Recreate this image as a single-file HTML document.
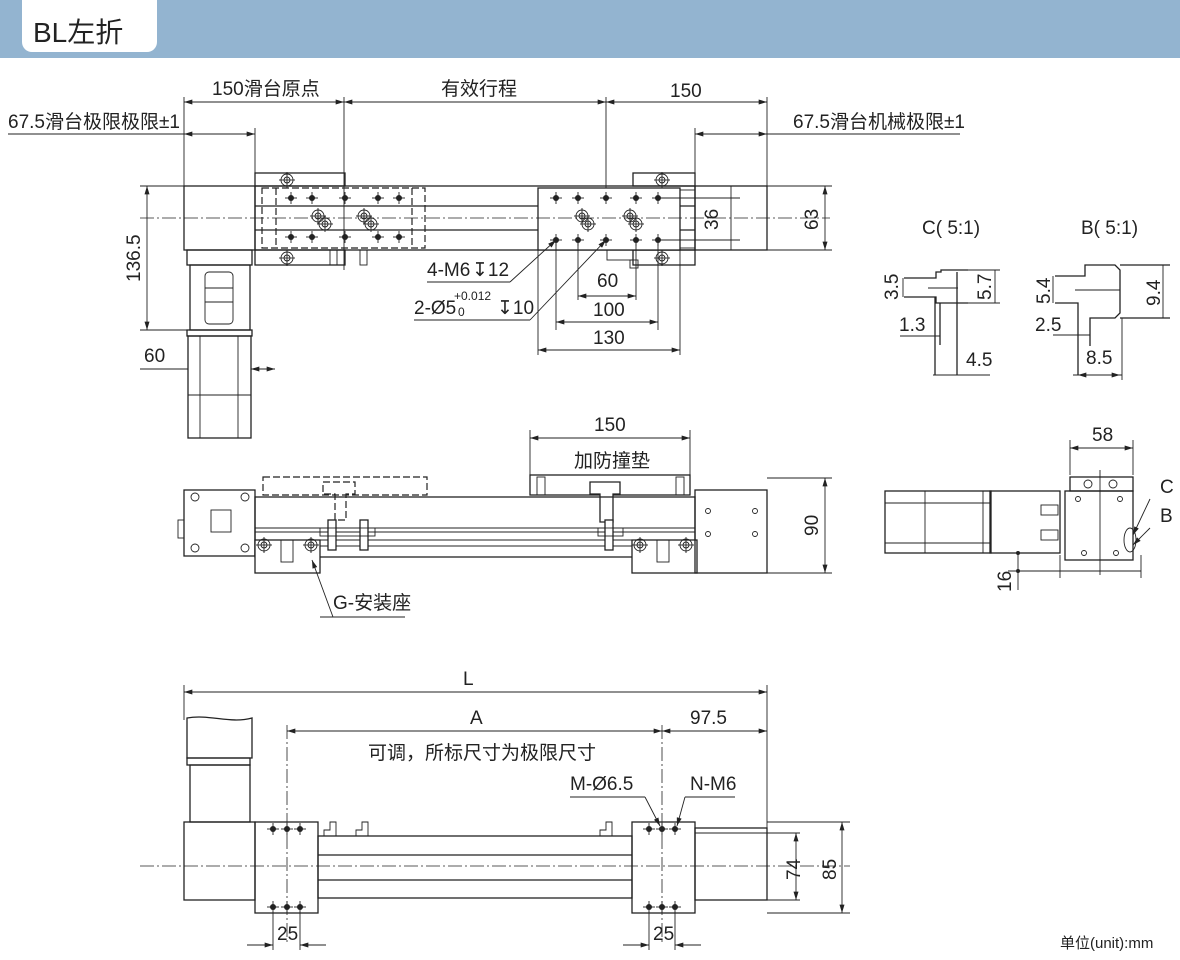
<!DOCTYPE html>
<html><head><meta charset="utf-8"><style>
html,body{margin:0;padding:0;background:#fff;}
svg{display:block}
text{font-family:"Liberation Sans Narrow","Liberation Sans","Noto Sans CJK SC",sans-serif;font-size:19px;fill:#222}
.l{stroke:#222;stroke-width:1.3;fill:none}
.t{stroke:#222;stroke-width:0.9;fill:none}
.w{stroke:#222;stroke-width:1.3;fill:#fff}
.d{stroke:#222;stroke-width:1.2;fill:none;stroke-dasharray:7 3}
.c{stroke:#222;stroke-width:0.8;fill:none;stroke-dasharray:14 3 2 3}
.a{stroke:#222;stroke-width:0.9;fill:none;marker-start:url(#ar);marker-end:url(#ar)}
.h{fill:#222}
</style></head><body>
<svg width="1180" height="960" viewBox="0 0 1180 960" xmlns="http://www.w3.org/2000/svg">
<defs>
<marker id="ar" viewBox="0 0 10 6" refX="10" refY="3" markerWidth="12" markerHeight="5" orient="auto-start-reverse" markerUnits="userSpaceOnUse"><path d="M0,0 L10,3 L0,6z" fill="#222"/></marker>
<g id="hole"><circle r="3" class="h"/><line x1="-6" y1="0" x2="6" y2="0" class="t"/><line x1="0" y1="-6" x2="0" y2="6" class="t"/></g>
<g id="bolt"><circle r="6" class="t"/><circle r="3" class="t"/><line x1="-8" y1="0" x2="8" y2="0" class="t"/><line x1="0" y1="-8" x2="0" y2="8" class="t"/></g>
</defs>
<!-- header -->
<rect x="0" y="0" width="1180" height="58" fill="#93b4d0"/>
<path d="M22,0 H157 V42 a10,10 0 0 1 -10,10 H32 a10,10 0 0 1 -10,-10z" fill="#fff"/>
<text x="33" y="42" style="font-family:'Liberation Sans','Noto Sans CJK SC',sans-serif;font-size:28px">BL左折</text>

<!-- ===== TOP VIEW ===== -->
<!-- dims -->
<line x1="184" y1="97" x2="184" y2="186" class="t"/>
<line x1="344" y1="97" x2="344" y2="270" class="t"/>
<line x1="606" y1="97" x2="606" y2="250" class="t"/>
<line x1="767" y1="97" x2="767" y2="186" class="t"/>
<line x1="255" y1="128" x2="255" y2="186" class="t"/>
<line x1="695" y1="128" x2="695" y2="186" class="t"/>
<line x1="184" y1="102" x2="344" y2="102" class="a"/>
<line x1="344" y1="102" x2="606" y2="102" class="a"/>
<line x1="606" y1="102" x2="767" y2="102" class="a"/>
<text x="212" y="95">150滑台原点</text>
<text x="441" y="95">有效行程</text>
<text x="670" y="97">150</text>
<line x1="8" y1="134" x2="184" y2="134" class="t"/>
<line x1="184" y1="134" x2="255" y2="134" class="a"/>
<line x1="695" y1="134" x2="767" y2="134" class="a"/>
<line x1="767" y1="134" x2="960" y2="134" class="t"/>
<text x="8" y="128">67.5滑台极限极限±1</text>
<text x="793" y="128">67.5滑台机械极限±1</text>
<!-- left end block & motor -->
<rect x="184" y="186" width="71" height="64" class="l"/>
<rect x="187" y="250" width="65" height="15" class="l"/>
<rect x="190" y="265" width="60" height="65" class="l"/>
<rect x="205" y="272" width="28" height="52" rx="4" class="t"/>
<line x1="205" y1="288" x2="233" y2="288" class="t"/><line x1="205" y1="302" x2="233" y2="302" class="t"/>
<rect x="187" y="330" width="65" height="6" class="l"/>
<rect x="188" y="336" width="63" height="102" class="l"/>
<line x1="200" y1="336" x2="200" y2="438" class="t"/><line x1="238" y1="336" x2="238" y2="438" class="t"/>
<line x1="188" y1="395" x2="251" y2="395" class="t"/>
<!-- 136.5 / 60 dims -->
<line x1="140" y1="186" x2="184" y2="186" class="t"/><line x1="140" y1="330" x2="188" y2="330" class="t"/>
<line x1="147" y1="186" x2="147" y2="330" class="a"/>
<text transform="translate(140,282) rotate(-90)">136.5</text>
<line x1="140" y1="369" x2="188" y2="369" class="t"/><line x1="251" y1="369" x2="275" y2="369" class="a" style="marker-start:url(#ar)"/>
<text x="144" y="362">60</text>
<!-- body -->
<rect x="255" y="186" width="440" height="64" class="l"/>
<line x1="255" y1="206" x2="695" y2="206" class="l"/>
<line x1="255" y1="230" x2="695" y2="230" class="l"/>
<rect x="255" y="173" width="90" height="13" class="l"/>
<rect x="633" y="173" width="62" height="13" class="l"/>
<rect x="633" y="250" width="62" height="15" class="l"/>
<rect x="255" y="250" width="90" height="15" class="l"/>
<rect x="262" y="188" width="163" height="60" class="d"/>
<line x1="276" y1="188" x2="276" y2="248" class="d"/><line x1="412" y1="188" x2="412" y2="248" class="d"/>
<rect x="538" y="188" width="142" height="62" class="w"/>
<rect x="680" y="190" width="15" height="58" class="t"/>
<rect x="695" y="186" width="72" height="64" class="l"/>
<line x1="140" y1="218" x2="830" y2="218" class="c"/>
<use href="#bolt" x="287" y="180"/><use href="#bolt" x="287" y="258"/>
<use href="#bolt" x="662" y="180"/><use href="#bolt" x="662" y="258"/>
<g>
<use href="#hole" x="291" y="198"/><use href="#hole" x="312" y="198"/><use href="#hole" x="345" y="198"/><use href="#hole" x="378" y="198"/><use href="#hole" x="399" y="198"/>
<use href="#hole" x="291" y="237"/><use href="#hole" x="312" y="237"/><use href="#hole" x="345" y="237"/><use href="#hole" x="378" y="237"/><use href="#hole" x="399" y="237"/>
<use href="#bolt" x="318" y="216"/><use href="#bolt" x="325" y="224"/><use href="#bolt" x="364" y="216"/><use href="#bolt" x="371" y="224"/>
<use href="#hole" x="556" y="198"/><use href="#hole" x="578" y="198"/><use href="#hole" x="606" y="198"/><use href="#hole" x="636" y="198"/><use href="#hole" x="658" y="198"/>
<use href="#hole" x="556" y="240"/><use href="#hole" x="578" y="240"/><use href="#hole" x="606" y="240"/><use href="#hole" x="636" y="240"/><use href="#hole" x="658" y="240"/>
<use href="#bolt" x="582" y="216"/><use href="#bolt" x="588" y="224"/><use href="#bolt" x="630" y="216"/><use href="#bolt" x="636" y="224"/>
</g>
<rect x="330" y="250" width="7" height="15" class="t"/><rect x="360" y="250" width="7" height="15" class="t"/>
<rect x="607" y="250" width="26" height="10" class="t"/><rect x="630" y="260" width="8" height="8" class="t"/>
<!-- 36 / 63 -->
<line x1="658" y1="198" x2="740" y2="198" class="t"/><line x1="658" y1="240" x2="740" y2="240" class="t"/>
<line x1="731" y1="186" x2="731" y2="250" class="t"/>
<text transform="translate(718,230) rotate(-90)">36</text>
<line x1="767" y1="186" x2="832" y2="186" class="t"/><line x1="767" y1="250" x2="832" y2="250" class="t"/>
<line x1="825" y1="186" x2="825" y2="250" class="a"/>
<text transform="translate(818,230) rotate(-90)">63</text>
<!-- leaders -->
<line x1="427" y1="282" x2="510" y2="282" class="t"/><line x1="510" y1="282" x2="556" y2="240" class="t" style="marker-end:url(#ar)"/>
<text x="427" y="276">4-M6</text><text x="472" y="276">↧12</text>
<line x1="414" y1="320" x2="530" y2="320" class="t"/><line x1="530" y1="320" x2="606" y2="240" class="t" style="marker-end:url(#ar)"/>
<text x="414" y="314">2-Ø5</text><text x="454" y="300" style="font-size:12px">+0.012</text><text x="458" y="316" style="font-size:12px">0</text><text x="497" y="314">↧10</text>
<!-- 60/100/130 -->
<line x1="578" y1="240" x2="578" y2="300" class="t"/><line x1="636" y1="240" x2="636" y2="300" class="t"/>
<line x1="556" y1="240" x2="556" y2="330" class="t"/><line x1="658" y1="240" x2="658" y2="330" class="t"/>
<line x1="538" y1="250" x2="538" y2="355" class="t"/><line x1="680" y1="250" x2="680" y2="355" class="t"/>
<line x1="578" y1="296" x2="636" y2="296" class="a"/><text x="597" y="287">60</text>
<line x1="556" y1="322" x2="658" y2="322" class="a"/><text x="593" y="316">100</text>
<line x1="538" y1="350" x2="680" y2="350" class="a"/><text x="593" y="344">130</text>

<!-- ===== C / B details ===== -->
<text x="922" y="234">C( 5:1)</text>
<text x="1081" y="234">B( 5:1)</text>
<g class="l">
<path d="M904,278 H936 V272 H941 V270 H968"/><path d="M904,297 H936 V303 H968"/>
<path d="M935,297 V375"/><path d="M940,303 V345"/><path d="M957,272 V375"/>
</g>
<g class="t">
<path d="M928,288 H958"/><path d="M968,270 H1000 M968,303 H1000 M995,270 V303"/>
<path d="M903,278 V297"/><path d="M900,336 H940"/><path d="M933,375 H990"/>
</g>
<text transform="translate(898,300) rotate(-90)">3.5</text>
<text transform="translate(991,300) rotate(-90)">5.7</text>
<text x="899" y="331">1.3</text><text x="966" y="366">4.5</text>
<g class="l">
<path d="M1055,276 H1085 V265 H1115 L1120,270 V313 L1115,318 H1090 V346"/><path d="M1055,303 H1078 V375"/>
<path d="M1120,265 H1170 M1120,318 H1170"/>
</g>
<g class="t"><path d="M1075,290 H1120 M1053,276 V303 M1053,335 H1090 M1073,375 H1122 M1122,318 V380 M1163,265 V318"/></g>
<line x1="1078" y1="375" x2="1120" y2="375" class="a"/>
<text transform="translate(1050,304) rotate(-90)">5.4</text>
<text transform="translate(1160,306) rotate(-90)">9.4</text>
<text x="1035" y="331">2.5</text><text x="1086" y="364">8.5</text>

<!-- ===== SIDE VIEW ===== -->
<line x1="530" y1="430" x2="530" y2="495" class="t"/><line x1="690" y1="430" x2="690" y2="495" class="t"/>
<line x1="530" y1="438" x2="690" y2="438" class="a"/>
<text x="594" y="431">150</text><text x="574" y="467">加防撞垫</text>
<rect x="530" y="475" width="160" height="20" class="l"/>
<rect x="537" y="477" width="8" height="18" class="t"/><rect x="676" y="477" width="8" height="18" class="t"/>
<path d="M590,482 H620 V494 H613 V522 H600 V494 H590z" class="w"/>
<rect x="263" y="477" width="164" height="18" class="d"/>
<path d="M323,482 H355 V494 H346 V520 H335 V494 H323z" class="d"/>
<rect x="184" y="490" width="71" height="66" class="l"/>
<rect x="178" y="520" width="6" height="18" class="t"/>
<rect x="211" y="510" width="20" height="22" class="t"/>
<circle cx="195" cy="497" r="4" class="t"/><circle cx="245" cy="497" r="4" class="t"/><circle cx="195" cy="548" r="4" class="t"/><circle cx="245" cy="548" r="4" class="t"/>
<rect x="255" y="497" width="440" height="60" class="l"/>
<line x1="255" y1="528" x2="695" y2="528" class="t"/><line x1="255" y1="532" x2="695" y2="532" class="t"/>
<line x1="320" y1="540" x2="632" y2="540" class="t"/><line x1="320" y1="546" x2="632" y2="546" class="t"/>
<rect x="255" y="540" width="65" height="33" class="w"/><rect x="632" y="540" width="65" height="33" class="w"/>
<rect x="281" y="540" width="12" height="22" class="t"/><rect x="657" y="540" width="12" height="22" class="t"/>
<use href="#bolt" x="264" y="545"/><use href="#bolt" x="311" y="545"/><use href="#bolt" x="640" y="545"/><use href="#bolt" x="686" y="545"/>
<rect x="328" y="520" width="8" height="30" class="w"/><rect x="360" y="520" width="8" height="30" class="w"/><rect x="605" y="520" width="8" height="30" class="w"/>
<rect x="320" y="528" width="55" height="8" class="t"/><rect x="598" y="528" width="25" height="8" class="t"/>
<rect x="695" y="490" width="72" height="83" class="l"/>
<circle cx="708" cy="511" r="2.5" class="t"/><circle cx="755" cy="511" r="2.5" class="t"/><circle cx="708" cy="534" r="2.5" class="t"/><circle cx="755" cy="534" r="2.5" class="t"/>
<line x1="767" y1="478" x2="832" y2="478" class="t"/><line x1="767" y1="573" x2="832" y2="573" class="t"/>
<line x1="825" y1="478" x2="825" y2="573" class="a"/>
<text transform="translate(818,536) rotate(-90)">90</text>
<line x1="320" y1="617" x2="405" y2="617" class="t"/><line x1="333" y1="617" x2="312" y2="560" class="t" style="marker-end:url(#ar)"/>
<text x="333" y="609">G-安装座</text>

<!-- ===== END VIEW ===== -->
<line x1="1070" y1="440" x2="1070" y2="475" class="t"/><line x1="1133" y1="440" x2="1133" y2="475" class="t"/>
<line x1="1070" y1="448" x2="1133" y2="448" class="a"/><text x="1092" y="441">58</text>
<rect x="885" y="491" width="106" height="62" class="l"/>
<line x1="925" y1="491" x2="925" y2="553" class="t"/><line x1="885" y1="503" x2="991" y2="503" class="t"/><line x1="885" y1="543" x2="991" y2="543" class="t"/>
<rect x="983" y="491" width="7" height="62" class="t"/>
<rect x="990" y="491" width="70" height="62" class="l"/>
<rect x="1041" y="505" width="17" height="10" class="t"/><rect x="1041" y="530" width="17" height="10" class="t"/>
<rect x="1070" y="477" width="63" height="14" class="l"/>
<circle cx="1088" cy="484" r="4" class="t"/><circle cx="1113" cy="484" r="4" class="t"/>
<rect x="1065" y="491" width="68" height="69" class="l"/>
<line x1="1100" y1="470" x2="1100" y2="575" class="t"/>
<circle cx="1078" cy="499" r="2.5" class="t"/><circle cx="1120" cy="499" r="2.5" class="t"/><circle cx="1084" cy="553" r="2.5" class="t"/><circle cx="1116" cy="553" r="2.5" class="t"/>
<ellipse cx="1130" cy="540" rx="6" ry="12" class="t"/>
<line x1="1133" y1="535" x2="1150" y2="499" class="t" style="marker-start:url(#ar)"/>
<line x1="1133" y1="545" x2="1150" y2="528" class="t" style="marker-start:url(#ar)"/>
<text x="1160" y="493">C</text><text x="1160" y="522">B</text>
<line x1="1018" y1="553" x2="1018" y2="590" class="t"/><line x1="1008" y1="571" x2="1141" y2="571" class="t"/>
<line x1="1060" y1="555" x2="1060" y2="578" class="t"/><line x1="1141" y1="555" x2="1141" y2="578" class="t"/>
<circle cx="1018" cy="553" r="2" class="h"/><circle cx="1018" cy="571" r="2" class="h"/>
<text transform="translate(1011,592) rotate(-90)">16</text>

<!-- ===== BOTTOM VIEW ===== -->
<line x1="184" y1="685" x2="184" y2="720" class="t"/><line x1="767" y1="685" x2="767" y2="828" class="t"/>
<line x1="184" y1="692" x2="767" y2="692" class="a"/><text x="463" y="685">L</text>
<line x1="287" y1="725" x2="287" y2="945" class="c"/><line x1="662" y1="725" x2="662" y2="945" class="c"/>
<line x1="287" y1="731" x2="662" y2="731" class="a"/><line x1="662" y1="731" x2="767" y2="731" class="a"/>
<text x="470" y="724">A</text><text x="690" y="724">97.5</text>
<text x="368" y="759">可调，所标尺寸为极限尺寸</text>
<path d="M187,718 C210,714 230,724 252,718 V758 H187z" class="l"/>
<rect x="187" y="758" width="63" height="7" class="l"/><rect x="190" y="765" width="60" height="57" class="l"/>
<rect x="184" y="822" width="71" height="78" class="l"/>
<rect x="255" y="822" width="63" height="91" class="l"/>
<rect x="318" y="836" width="314" height="62" class="l"/>
<line x1="318" y1="855" x2="632" y2="855" class="l"/><line x1="318" y1="880" x2="632" y2="880" class="l"/>
<rect x="632" y="822" width="63" height="91" class="l"/>
<rect x="695" y="828" width="72" height="72" class="l"/><line x1="695" y1="833" x2="767" y2="833" class="t"/>
<path d="M324,836 V830 H330 V822 H336 V836 M356,836 V830 H362 V822 H368 V836" class="t"/>
<path d="M600,836 V830 H606 V822 H612 V836" class="t"/>
<line x1="140" y1="866" x2="850" y2="866" class="c"/>
<use href="#hole" x="273" y="829"/><use href="#hole" x="287" y="829"/><use href="#hole" x="300" y="829"/>
<use href="#hole" x="273" y="907"/><use href="#hole" x="287" y="907"/><use href="#hole" x="300" y="907"/>
<use href="#hole" x="649" y="829"/><use href="#hole" x="662" y="829"/><use href="#hole" x="675" y="829"/>
<use href="#hole" x="649" y="907"/><use href="#hole" x="662" y="907"/><use href="#hole" x="675" y="907"/>
<line x1="570" y1="797" x2="645" y2="797" class="t"/><line x1="645" y1="797" x2="660" y2="826" class="t" style="marker-end:url(#ar)"/>
<line x1="685" y1="797" x2="735" y2="797" class="t"/><line x1="685" y1="797" x2="677" y2="826" class="t" style="marker-end:url(#ar)"/>
<text x="570" y="790">M-Ø6.5</text><text x="690" y="790">N-M6</text>
<line x1="695" y1="833" x2="800" y2="833" class="t"/><line x1="695" y1="900" x2="800" y2="900" class="t"/>
<line x1="767" y1="822" x2="850" y2="822" class="t"/><line x1="767" y1="913" x2="850" y2="913" class="t"/>
<line x1="796" y1="833" x2="796" y2="900" class="a"/><line x1="842" y1="822" x2="842" y2="913" class="a"/>
<text transform="translate(800,880) rotate(-90)">74</text><text transform="translate(836,880) rotate(-90)">85</text>
<line x1="273" y1="913" x2="273" y2="950" class="t"/><line x1="300" y1="913" x2="300" y2="950" class="t"/>
<line x1="649" y1="913" x2="649" y2="950" class="t"/><line x1="675" y1="913" x2="675" y2="950" class="t"/>
<line x1="247" y1="945" x2="273" y2="945" class="t" style="marker-end:url(#ar)"/><line x1="326" y1="945" x2="300" y2="945" class="t" style="marker-end:url(#ar)"/>
<line x1="623" y1="945" x2="649" y2="945" class="t" style="marker-end:url(#ar)"/><line x1="701" y1="945" x2="675" y2="945" class="t" style="marker-end:url(#ar)"/>
<text x="277" y="940">25</text><text x="653" y="940">25</text>
<text x="1060" y="948" style="font-family:'Liberation Sans','Noto Sans CJK SC',sans-serif;font-size:15px">单位(unit):mm</text>
</svg>
</body></html>
